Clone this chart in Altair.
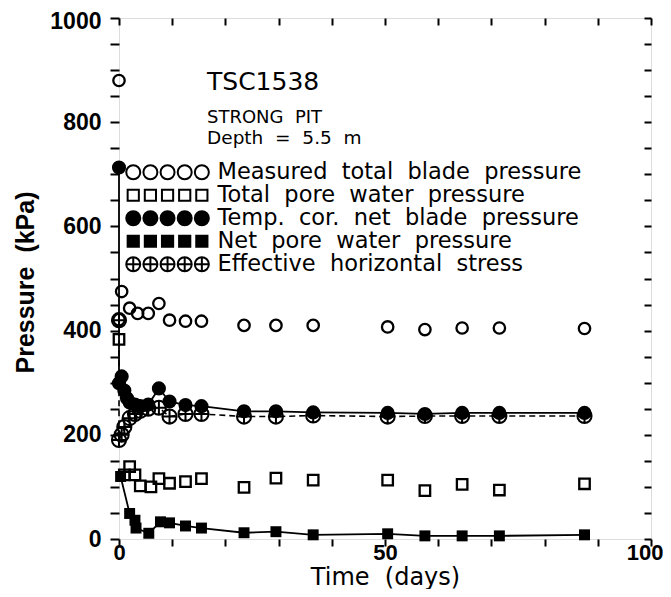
import altair as alt
import pandas as pd

# ---------------- data ----------------
meas_t = [0, 0, 0.5, 2, 3.5, 5.5, 7.5, 9.5, 12.5, 15.5, 23.5, 29.5, 36.5, 50.5, 57.5, 64.5, 71.5, 87.5]
meas_p = [880, 421, 475, 443, 433, 433, 452, 420, 418, 418, 410, 410, 410, 407, 402, 405, 405, 404]

tpore_t = [0, 1, 2, 3, 4, 6, 7.5, 9.5, 12.5, 15.5, 23.5, 29.5, 36.5, 50.5, 57.5, 64.5, 71.5, 87.5]
tpore_p = [383, 123, 139, 123, 102, 100, 116, 107, 110, 116, 99, 117, 113, 113, 93, 105, 94, 106]

blade_t = [0, 0, 0.5, 1, 1.5, 2, 3, 4, 5.5, 7.5, 9.5, 12.5, 15.5, 23.5, 29.5, 36.5, 50.5, 57.5, 64.5, 71.5, 87.5]
blade_p = [713, 299, 312, 285, 270, 262, 258, 255, 258, 289, 264, 257, 255, 245, 245, 243, 242, 240, 242, 242, 242]

npore_t = [0.3, 2, 3, 3.2, 5.6, 7.8, 9.5, 12.5, 15.5, 23.5, 29.5, 36.5, 50.5, 57.5, 64.5, 71.5, 87.5]
npore_p = [120, 49, 36, 21, 11, 33, 31, 25, 21, 12, 14, 8, 10, 6, 6, 6, 8]

eff_t = [0, 0, 0.5, 1, 2, 3, 4, 5.5, 7.5, 9.5, 12.5, 15.5, 23.5, 29.5, 36.5, 50.5, 57.5, 64.5, 71.5, 87.5]
eff_p = [420, 190, 200, 215, 232, 240, 246, 250, 252, 235, 240, 240, 235, 235, 237, 235, 236, 236, 236, 236]

SP = " \u00a0"  # wide word gap, as in the original plotter lettering
series_names = [
    SP.join(["Measured", "total", "blade", "pressure"]),
    SP.join(["Total", "pore", "water", "pressure"]),
    SP.join(["Temp.", "cor.", "net", "blade", "pressure"]),
    SP.join(["Net", "pore", "water", "pressure"]),
    SP.join(["Effective", "horizontal", "stress"]),
]
title_lines = ["TSC1538", SP.join(["STRONG", "PIT"]), SP.join(["Depth", "=", "5.5", "m"])]
x_title = SP.join(["Time", "(days)"])
y_title = SP.join(["Pressure", "(kPa)"])

x_ticks = list(range(0, 101, 10))
y_ticks = list(range(0, 1001, 50))

# ---------------- styles ----------------
FONT = "DejaVu Sans"
TICKFONT = "Liberation Sans"
W, H = 532, 521

def circ(cx):
    return f"M{cx-1},0A1,1 0 1,1 {cx+1},0A1,1 0 1,1 {cx-1},0Z"

def sq(cx):
    return f"M{cx-0.8},-0.8h1.6v1.6h-1.6Z"

def cross(cx):
    return circ(cx) + f"M{cx-1},0H{cx+1}M{cx},-1V1"

STEP = 2.45
open_c = "".join(circ(i * STEP) for i in range(5))
open_s = "".join(sq(i * STEP) for i in range(5))
cross_c = "".join(cross(i * STEP) for i in range(5))
CROSS_SHAPE = "M-1,0A1,1 0 1,1 1,0A1,1 0 1,1 -1,0ZM-1,0H1M0,-1V1"

xs = alt.Scale(domain=[0, 100], nice=False, zero=False)
ys = alt.Scale(domain=[0, 1000], nice=False, zero=False)

ax_bottom = alt.Axis(orient="bottom", values=x_ticks, title=x_title, format="d",
                     labelExpr="datum.value % 50 === 0 ? datum.label : ''",
                     labelAlign=alt.ExprRef(expr="datum.value === 100 ? 'right' : 'center'"),
                     labelOffset=alt.ExprRef(expr="datum.value === 100 ? 12 : 0"),
                     grid=False, domain=False, tickSize=7, tickWidth=2, tickColor="black",
                     labelFont=TICKFONT, labelFontSize=22, labelFontWeight="bold", labelColor="black",
                     labelPadding=-4, labelFlush=False,
                     titleFont=FONT, titleFontSize=24, titleFontWeight="normal", titleColor="black",
                     titleX=W / 2, titleY=38, titleBaseline="middle", titleAlign="center")
ax_left = alt.Axis(orient="left", values=y_ticks, title=y_title, format="d",
                   labelExpr="datum.value % 200 === 0 ? datum.label : ''",
                   labelOffset=alt.ExprRef(expr="datum.value === 1000 ? 3 : 0"),
                   grid=False, domain=False, tickSize=9, tickWidth=2, tickColor="black",
                   labelFont=TICKFONT, labelFontSize=23, labelFontWeight="bold", labelColor="black",
                   labelPadding=9, labelFlush=False,
                   titleFont=TICKFONT, titleFontSize=25, titleFontWeight="bold", titleColor="black",
                   titleX=-94, titleY=264, titleAngle=270, titleBaseline="middle", titleAlign="center")
ax_top = alt.Axis(orient="top", values=x_ticks, labels=False, title=None, grid=False, domain=False,
                  tickSize=7, tickWidth=2, tickColor="black", offset=-7)
ax_right = alt.Axis(orient="right", values=y_ticks, labels=False, title=None, grid=False, domain=False,
                    tickSize=7, tickWidth=2, tickColor="black", offset=-7)

def df(t, p):
    return pd.DataFrame({"t": t, "p": p})

def enc(chart, xa=None, ya=None):
    return chart.encode(
        x=alt.X("t:Q", scale=xs, axis=xa),
        y=alt.Y("p:Q", scale=ys, axis=ya),
    )

meas_pts = enc(alt.Chart(df(meas_t, meas_p)).mark_point(shape="circle", size=130, strokeWidth=2.3,
                                                        color="black", opacity=1), ax_bottom, ax_left)
tpore_pts = enc(alt.Chart(df(tpore_t, tpore_p)).mark_point(shape="square", size=110, strokeWidth=2.3,
                                                           color="black", opacity=1), ax_top, ax_right)
blade_line = enc(alt.Chart(df(blade_t, blade_p)).mark_line(color="black", strokeWidth=1.8))
blade_pts = enc(alt.Chart(df(blade_t, blade_p)).mark_point(shape="circle", size=200, filled=True,
                                                           color="black", opacity=1))
npore_line = enc(alt.Chart(df(npore_t, npore_p)).mark_line(color="black", strokeWidth=1.8))
npore_pts = enc(alt.Chart(df(npore_t, npore_p)).mark_point(shape="square", size=120, filled=True,
                                                           color="black", opacity=1))
eff_line = enc(alt.Chart(df(eff_t, eff_p)).mark_line(color="black", strokeWidth=1.6, strokeDash=[6, 4]))
eff_pts = enc(alt.Chart(df(eff_t, eff_p)).mark_point(shape=CROSS_SHAPE, size=200, strokeWidth=2,
                                                     color="black", opacity=1))

# legend layer (no drawn marks, only the legend)
leg = alt.Legend(title=None, orient="none", legendX=3, legendY=143,
                 symbolSize=196, symbolStrokeWidth=2, symbolStrokeColor="black",
                 labelFont=FONT, labelFontSize=22.5, labelColor="black",
                 labelOffset=73, labelLimit=600, rowPadding=0, padding=0,
                 labelBaseline="middle")
legend_layer = alt.Chart(pd.DataFrame({"s": series_names})).mark_point(
    strokeWidth=2, opacity=1
).encode(
    shape=alt.Shape("s:N", scale=alt.Scale(domain=series_names,
                                           range=[open_c, open_s, open_c, open_s, cross_c]),
                    legend=leg),
    fill=alt.Fill("s:N", scale=alt.Scale(domain=series_names,
                                         range=["white", "white", "black", "black", "white"]),
                  legend=leg),
    stroke=alt.Stroke("s:N", scale=alt.Scale(domain=series_names, range=["black"] * 5),
                      legend=leg),
).transform_filter("false")

title_main = alt.Chart(pd.DataFrame({"txt": title_lines[:1]})).mark_text(
    align="left", baseline="middle", font=FONT, fontSize=25, color="black").encode(
    text="txt:N", x=alt.value(88), y=alt.value(64))
title_sub1 = alt.Chart(pd.DataFrame({"txt": title_lines[1:2]})).mark_text(
    align="left", baseline="middle", font=FONT, fontSize=18, color="black").encode(
    text="txt:N", x=alt.value(88), y=alt.value(100))
title_sub2 = alt.Chart(pd.DataFrame({"txt": title_lines[2:3]})).mark_text(
    align="left", baseline="middle", font=FONT, fontSize=18.5, color="black").encode(
    text="txt:N", x=alt.value(88), y=alt.value(120))

chart = alt.layer(
    meas_pts, tpore_pts, eff_line, blade_line, npore_line,
    eff_pts, blade_pts, npore_pts, legend_layer, title_main, title_sub1, title_sub2
).resolve_axis(x="independent", y="independent").resolve_scale(x="shared", y="shared").properties(
    width=W, height=H,
    autosize=alt.AutoSizeParams(type="none"),
    padding={"left": 111, "top": 10, "right": 12, "bottom": 50},
).configure_view(stroke="black", strokeWidth=2).configure(background="white")

chart.save("out.html", embed_options={"renderer": "svg", "actions": False})
